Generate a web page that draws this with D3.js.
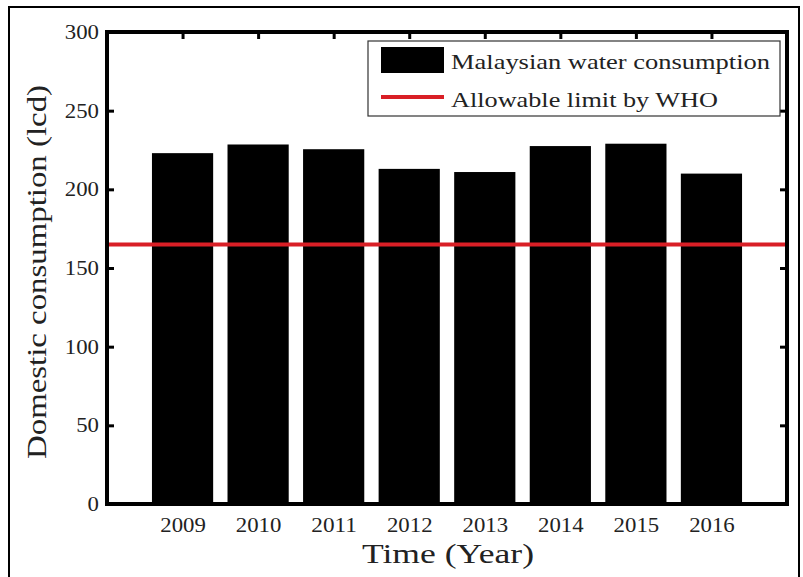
<!DOCTYPE html>
<html>
<head>
<meta charset="utf-8">
<script src="https://cdn.jsdelivr.net/npm/d3@7/dist/d3.min.js"></script>
<style>
  body { margin: 0; background: #fff; }
  svg { display: block; }
  text { font-family: "Liberation Serif", "DejaVu Serif", serif; fill: #222; }
</style>
</head>
<body>
<svg id="chart" width="803" height="577"></svg>
<script>
const years = ["2009", "2010", "2011", "2012", "2013", "2014", "2015", "2016"];
const consumption = [223, 228.5, 225.5, 213, 211, 227.5, 229, 210];
const whoLimit = 165;
const yTicks = [0, 50, 100, 150, 200, 250, 300];
const seriesNames = ["Malaysian water consumption", "Allowable limit by WHO"];
const xLabel = "Time (Year)";
const yLabel = "Domestic consumption (lcd)";

const svg = d3.select("#chart");
const plot = { left: 107, right: 787, top: 32, bottom: 504 };

// outer frame
svg.append("rect").attr("x", 9).attr("y", 7).attr("width", 790).attr("height", 575)
  .attr("fill", "none").attr("stroke", "#000").attr("stroke-width", 2);

const x = d3.scaleLinear().domain([0, years.length + 1]).range([plot.left, plot.right]);
const y = d3.scaleLinear().domain([0, 300]).range([plot.bottom, plot.top]);
const barW = (x(1) - x(0)) * 0.81;

// bars
svg.append("g").selectAll("rect").data(consumption).join("rect")
  .attr("x", (d, i) => x(i + 1) - barW / 2)
  .attr("y", d => y(d))
  .attr("width", barW)
  .attr("height", d => y(0) - y(d))
  .attr("fill", "#000");

// WHO line
svg.append("line")
  .attr("x1", x(0)).attr("x2", x(years.length + 1))
  .attr("y1", y(whoLimit)).attr("y2", y(whoLimit))
  .attr("stroke", "#d91f26").attr("stroke-width", 4);

// axes frame
svg.append("rect")
  .attr("x", plot.left).attr("y", plot.top)
  .attr("width", plot.right - plot.left).attr("height", plot.bottom - plot.top)
  .attr("fill", "none").attr("stroke", "#000").attr("stroke-width", 4);

// axes with inward ticks
const tickLen = 7;
const xTickVals = years.map((d, i) => i + 1);
const fmtX = (d) => years[d - 1];

const xBottom = svg.append("g").attr("transform", `translate(0,${plot.bottom})`)
  .call(d3.axisBottom(x).tickValues(xTickVals).tickFormat(fmtX).tickSize(-tickLen).tickPadding(14));
const xTop = svg.append("g").attr("transform", `translate(0,${plot.top})`)
  .call(d3.axisTop(x).tickValues(xTickVals).tickFormat("").tickSize(-tickLen));
const yLeft = svg.append("g").attr("transform", `translate(${plot.left},0)`)
  .call(d3.axisLeft(y).tickValues(yTicks).tickSize(-tickLen).tickPadding(8));
const yRight = svg.append("g").attr("transform", `translate(${plot.right},0)`)
  .call(d3.axisRight(y).tickValues(yTicks).tickFormat("").tickSize(-tickLen));

[xBottom, xTop, yLeft, yRight].forEach(g => {
  g.select(".domain").remove();
  g.selectAll(".tick line").attr("stroke", "#000").attr("stroke-width", 3);
  g.selectAll(".tick text").attr("font-size", 20)
    .attr("font-family", "'Liberation Serif', serif").attr("fill", "#222")
    .each(function() {
      const t = d3.select(this).text();
      if (t.length) d3.select(this).attr("textLength", t.length * 11.4).attr("lengthAdjust", "spacingAndGlyphs");
    });
});

// axis titles
svg.append("text").attr("x", 448).attr("y", 563)
  .attr("text-anchor", "middle").attr("font-size", 27)
  .attr("textLength", 172).attr("lengthAdjust", "spacingAndGlyphs").text(xLabel);
svg.append("text")
  .attr("transform", `translate(46,${272}) rotate(-90)`)
  .attr("text-anchor", "middle").attr("font-size", 28)
  .attr("textLength", 374).attr("lengthAdjust", "spacingAndGlyphs").text(yLabel);

// legend
const lg = svg.append("g");
lg.append("rect").attr("x", 368).attr("y", 41).attr("width", 412).attr("height", 75)
  .attr("fill", "#fff").attr("stroke", "#333").attr("stroke-width", 1.2);
lg.append("rect").attr("x", 381).attr("y", 47).attr("width", 63).attr("height", 26).attr("fill", "#000");
lg.append("line").attr("x1", 381).attr("x2", 444).attr("y1", 97).attr("y2", 97)
  .attr("stroke", "#d91f26").attr("stroke-width", 4);
lg.append("text").attr("x", 451).attr("y", 69).attr("font-size", 22)
  .attr("textLength", 319).attr("lengthAdjust", "spacingAndGlyphs").text(seriesNames[0]);
lg.append("text").attr("x", 451).attr("y", 107).attr("font-size", 22)
  .attr("textLength", 267).attr("lengthAdjust", "spacingAndGlyphs").text(seriesNames[1]);
</script>
</body>
</html>
